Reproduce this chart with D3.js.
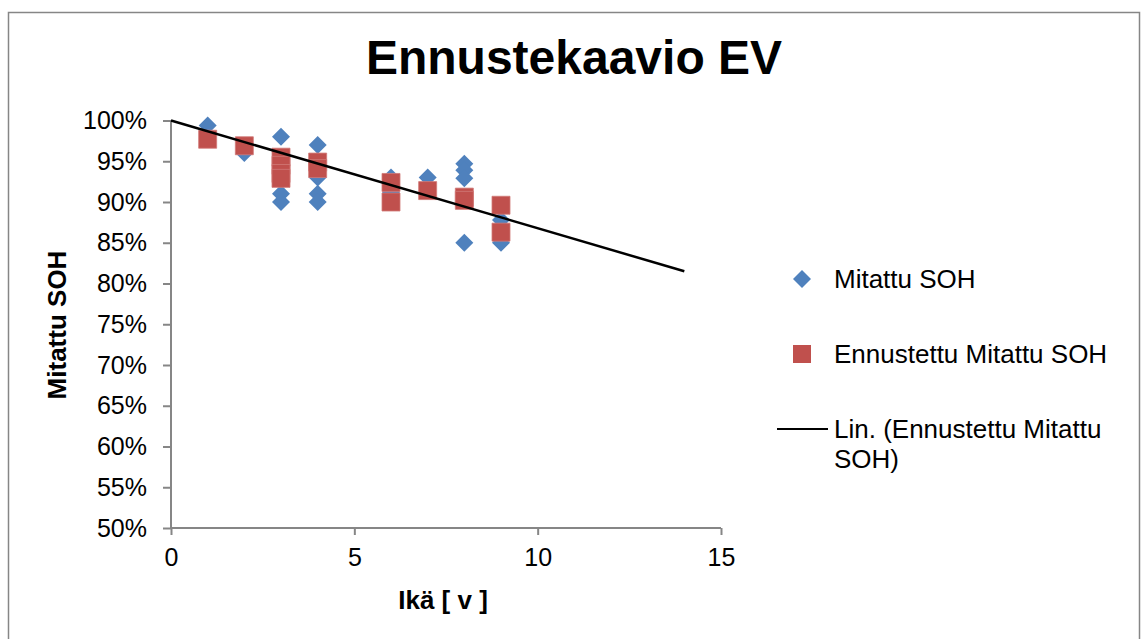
<!DOCTYPE html>
<html>
<head>
<meta charset="utf-8">
<script src="https://cdn.jsdelivr.net/npm/d3@7"></script>
<style>
  body { margin: 0; background: #fff; }
  svg text { font-family: "Liberation Sans", Arial, sans-serif; fill: #000; }
</style>
</head>
<body>
<div class="chart"></div>
<script>
// data
const measuredAge = [1, 2, 3, 3, 3, 4, 4, 4, 4, 6, 6, 7, 8, 8, 8, 8, 9, 9];
const measuredSoh = [0.994, 0.96, 0.98, 0.91, 0.90, 0.97, 0.93, 0.91, 0.90, 0.93, 0.912, 0.93, 0.947, 0.939, 0.929, 0.85, 0.878, 0.85];
const forecastAge = [1, 2, 3, 3, 3, 3, 4, 4, 6, 6, 7, 8, 8, 9, 9];
const forecastSoh = [0.977, 0.969, 0.955, 0.945, 0.935, 0.929, 0.949, 0.941, 0.924, 0.90, 0.914, 0.906, 0.902, 0.896, 0.863];
const trendAge = [0, 14];
const trendSoh = [1.0, 0.815];
const xTicks = [0, 5, 10, 15];
const yTicks = [0.5, 0.55, 0.6, 0.65, 0.7, 0.75, 0.8, 0.85, 0.9, 0.95, 1.0];
const legendLabels = ["Mitattu SOH", "Ennustettu Mitattu SOH", "Lin. (Ennustettu Mitattu", "SOH)"];

const width = 1141, height = 639;
const plot = {left: 171, right: 721, top: 120.5, bottom: 528};
const blue = "#4f81bd", red = "#c0504d", axisColor = "#868686";

const svg = d3.select(".chart")
    .append("svg")
    .attr("width", width)
    .attr("height", height);

// outer chart border
svg.append("rect")
    .attr("x", 8.5).attr("y", 12.5)
    .attr("width", 1131).attr("height", 640)
    .attr("fill", "none")
    .attr("stroke", axisColor)
    .attr("stroke-width", 1.5);

const x = d3.scaleLinear().domain([0, 15]).range([plot.left, plot.right]);
const y = d3.scaleLinear().domain([0.5, 1.0]).range([plot.bottom, plot.top]);

// title
svg.append("text")
    .attr("x", 574).attr("y", 74)
    .attr("text-anchor", "middle")
    .attr("font-size", 48)
    .attr("font-weight", "bold")
    .text("Ennustekaavio EV");

// y axis
const yAxis = svg.append("g")
    .attr("transform", "translate(" + plot.left + ",0)")
    .call(d3.axisLeft(y).tickValues(yTicks).tickFormat(d3.format(".0%")).tickSize(8).tickPadding(16));

// x axis
const xAxis = svg.append("g")
    .attr("transform", "translate(0," + plot.bottom + ")")
    .call(d3.axisBottom(x).tickValues(xTicks).tickSize(7).tickPadding(13));

[xAxis, yAxis].forEach(function(a) {
    a.select(".domain").attr("stroke", axisColor).attr("stroke-width", 2);
    a.selectAll(".tick line").attr("stroke", axisColor).attr("stroke-width", 2);
    a.selectAll(".tick text")
        .attr("font-size", 25)
        .attr("fill", "#000")
        .style("font-family", "'Liberation Sans', Arial, sans-serif");
});
yAxis.select(".domain").attr("d", "M0," + plot.bottom + "V" + plot.top);
xAxis.select(".domain").attr("d", "M" + plot.left + ",0H" + plot.right);

// axis titles
svg.append("text")
    .attr("x", 443).attr("y", 609)
    .attr("text-anchor", "middle")
    .attr("font-size", 26)
    .attr("font-weight", "bold")
    .text("Ikä [ v ]");

svg.append("text")
    .attr("transform", "translate(66,325) rotate(-90)")
    .attr("text-anchor", "middle")
    .attr("font-size", 26)
    .attr("font-weight", "bold")
    .text("Mitattu SOH");

// measured points (diamonds)
const diamond = d3.symbol().type(d3.symbolSquare).size(162);
svg.append("g")
    .selectAll("path")
    .data(measuredAge.map(function(d, i) { return {x: d, y: measuredSoh[i]}; }))
    .join("path")
    .attr("d", diamond)
    .attr("fill", blue)
    .attr("transform", function(d) { return "translate(" + x(d.x) + "," + y(d.y) + ") rotate(45)"; });

// forecast points (squares)
const square = d3.symbol().type(d3.symbolSquare).size(324);
svg.append("g")
    .selectAll("path")
    .data(forecastAge.map(function(d, i) { return {x: d, y: forecastSoh[i]}; }))
    .join("path")
    .attr("d", square)
    .attr("fill", red)
    .attr("stroke", "#d07a77")
    .attr("stroke-width", 0.8)
    .attr("transform", function(d) { return "translate(" + x(d.x) + "," + y(d.y) + ")"; });

// linear trend line
svg.append("path")
    .datum(trendAge.map(function(d, i) { return {x: d, y: trendSoh[i]}; }))
    .attr("fill", "none")
    .attr("stroke", "#000")
    .attr("stroke-width", 2.5)
    .attr("d", d3.line()
        .x(function(d) { return x(d.x); })
        .y(function(d) { return y(d.y); }));

// legend
const legend = svg.append("g");
legend.append("path")
    .attr("d", diamond)
    .attr("fill", blue)
    .attr("transform", "translate(802,279) rotate(45)");
legend.append("path")
    .attr("d", square)
    .attr("fill", red)
    .attr("transform", "translate(802,354)");
legend.append("line")
    .attr("x1", 777).attr("x2", 828)
    .attr("y1", 429).attr("y2", 429)
    .attr("stroke", "#000")
    .attr("stroke-width", 2);

const legendY = [279, 354, 429, 459];
legendLabels.forEach(function(t, i) {
    legend.append("text")
        .attr("x", 834).attr("y", legendY[i])
        .attr("dy", "0.35em")
        .attr("font-size", 26)
        .text(t);
});
</script>
</body>
</html>
